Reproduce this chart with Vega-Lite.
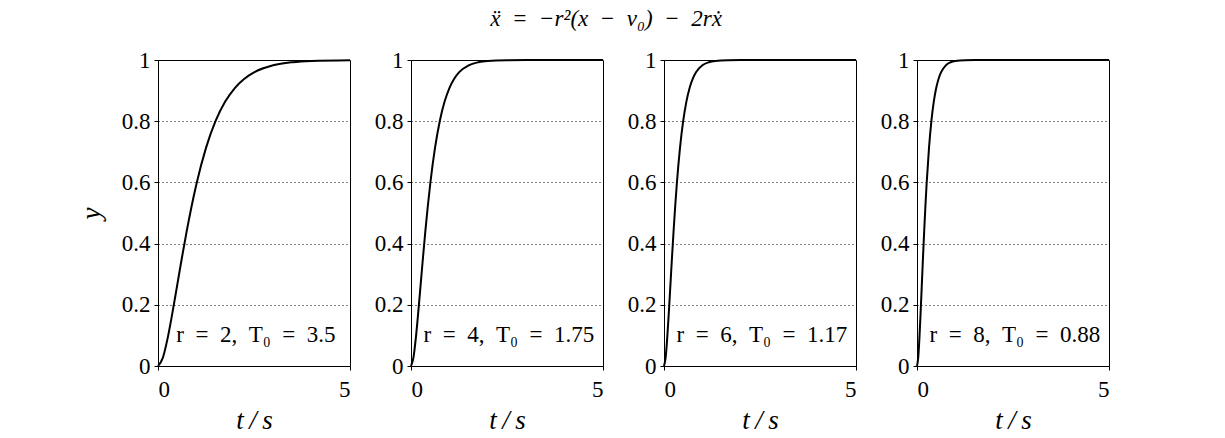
{
  "$schema": "https://vega.github.io/schema/vega-lite/v6.json",
  "autosize": {"type": "pad"},
  "padding": {"left": 76, "top": 7, "right": 5, "bottom": 5},
  "background": "white",
  "bounds": "flush",
  "title": {"text": "ẍ\u2002=\u2002−r²(x\u2002−\u2002v₀)\u2002−\u20022rẋ", "font": "Liberation Serif", "fontSize": 23, "fontWeight": "normal", "fontStyle": "italic", "color": "black", "anchor": "middle", "dx": 11, "offset": 18},
  "datasets": {
    "curves": [
      {"r": 2, "t": 0, "y": 0}, {"r": 2, "t": 0.125, "y": 0.0265}, {"r": 2, "t": 0.25, "y": 0.0902}, {"r": 2, "t": 0.375, "y": 0.1734}, {"r": 2, "t": 0.5, "y": 0.2642}, {"r": 2, "t": 0.625, "y": 0.3554}, {"r": 2, "t": 0.75, "y": 0.4422}, {"r": 2, "t": 0.875, "y": 0.5221}, {"r": 2, "t": 1, "y": 0.594}, {"r": 2, "t": 1.25, "y": 0.7127}, {"r": 2, "t": 1.5, "y": 0.8009}, {"r": 2, "t": 1.75, "y": 0.8641}, {"r": 2, "t": 2, "y": 0.9084}, {"r": 2, "t": 2.25, "y": 0.9389}, {"r": 2, "t": 2.5, "y": 0.9596}, {"r": 2, "t": 3, "y": 0.9826}, {"r": 2, "t": 3.5, "y": 0.9927}, {"r": 2, "t": 4, "y": 0.997}, {"r": 2, "t": 5, "y": 0.9995},
      {"r": 4, "t": 0, "y": 0}, {"r": 4, "t": 0.0625, "y": 0.0265}, {"r": 4, "t": 0.125, "y": 0.0902}, {"r": 4, "t": 0.1875, "y": 0.1734}, {"r": 4, "t": 0.25, "y": 0.2642}, {"r": 4, "t": 0.3125, "y": 0.3554}, {"r": 4, "t": 0.375, "y": 0.4422}, {"r": 4, "t": 0.4375, "y": 0.5221}, {"r": 4, "t": 0.5, "y": 0.594}, {"r": 4, "t": 0.625, "y": 0.7127}, {"r": 4, "t": 0.75, "y": 0.8009}, {"r": 4, "t": 0.875, "y": 0.8641}, {"r": 4, "t": 1, "y": 0.9084}, {"r": 4, "t": 1.125, "y": 0.9389}, {"r": 4, "t": 1.25, "y": 0.9596}, {"r": 4, "t": 1.5, "y": 0.9826}, {"r": 4, "t": 1.75, "y": 0.9927}, {"r": 4, "t": 2, "y": 0.997}, {"r": 4, "t": 2.5, "y": 0.9995}, {"r": 4, "t": 3, "y": 0.9999}, {"r": 4, "t": 5, "y": 1},
      {"r": 6, "t": 0, "y": 0}, {"r": 6, "t": 0.0417, "y": 0.0265}, {"r": 6, "t": 0.0833, "y": 0.0902}, {"r": 6, "t": 0.125, "y": 0.1734}, {"r": 6, "t": 0.1667, "y": 0.2642}, {"r": 6, "t": 0.2083, "y": 0.3554}, {"r": 6, "t": 0.25, "y": 0.4422}, {"r": 6, "t": 0.2917, "y": 0.5221}, {"r": 6, "t": 0.3333, "y": 0.594}, {"r": 6, "t": 0.4167, "y": 0.7127}, {"r": 6, "t": 0.5, "y": 0.8009}, {"r": 6, "t": 0.5833, "y": 0.8641}, {"r": 6, "t": 0.6667, "y": 0.9084}, {"r": 6, "t": 0.75, "y": 0.9389}, {"r": 6, "t": 0.8333, "y": 0.9596}, {"r": 6, "t": 1, "y": 0.9826}, {"r": 6, "t": 1.1667, "y": 0.9927}, {"r": 6, "t": 1.3333, "y": 0.997}, {"r": 6, "t": 1.6667, "y": 0.9995}, {"r": 6, "t": 2, "y": 0.9999}, {"r": 6, "t": 5, "y": 1},
      {"r": 8, "t": 0, "y": 0}, {"r": 8, "t": 0.0313, "y": 0.0265}, {"r": 8, "t": 0.0625, "y": 0.0902}, {"r": 8, "t": 0.0938, "y": 0.1734}, {"r": 8, "t": 0.125, "y": 0.2642}, {"r": 8, "t": 0.1563, "y": 0.3554}, {"r": 8, "t": 0.1875, "y": 0.4422}, {"r": 8, "t": 0.2188, "y": 0.5221}, {"r": 8, "t": 0.25, "y": 0.594}, {"r": 8, "t": 0.3125, "y": 0.7127}, {"r": 8, "t": 0.375, "y": 0.8009}, {"r": 8, "t": 0.4375, "y": 0.8641}, {"r": 8, "t": 0.5, "y": 0.9084}, {"r": 8, "t": 0.5625, "y": 0.9389}, {"r": 8, "t": 0.625, "y": 0.9596}, {"r": 8, "t": 0.75, "y": 0.9826}, {"r": 8, "t": 0.875, "y": 0.9927}, {"r": 8, "t": 1, "y": 0.997}, {"r": 8, "t": 1.25, "y": 0.9995}, {"r": 8, "t": 1.5, "y": 0.9999}, {"r": 8, "t": 5, "y": 1}
    ],
    "labels": [
      {"r": 2, "label": "r\u2002=\u20022,\u2002T₀\u2002=\u20023.5"},
      {"r": 4, "label": "r\u2002=\u20024,\u2002T₀\u2002=\u20021.75"},
      {"r": 6, "label": "r\u2002=\u20026,\u2002T₀\u2002=\u20021.17"},
      {"r": 8, "label": "r\u2002=\u20028,\u2002T₀\u2002=\u20020.88"}
    ]
  },
  "spacing": 61,
  "hconcat": [
    {
      "width": 192, "height": 306,
      "layer": [
        {"data": {"name": "curves"}, "transform": [{"filter": "datum.r == 2"}],
         "mark": {"type": "line", "color": "black", "strokeWidth": 2, "interpolate": "monotone"},
         "encoding": {
           "x": {"field": "t", "type": "quantitative", "scale": {"domain": [0, 5], "nice": false}, "axis": {"values": [0, 5], "title": "t\u2009/\u2009s"}},
           "y": {"field": "y", "type": "quantitative", "scale": {"domain": [0, 1], "nice": false}, "axis": {"values": [0, 0.2, 0.4, 0.6, 0.8, 1], "title": "y"}}
         }},
        {"data": {"name": "labels"}, "transform": [{"filter": "datum.r == 2"}],
         "mark": {"type": "text", "align": "center", "baseline": "middle", "font": "Liberation Serif", "fontSize": 23, "color": "black"},
         "encoding": {"x": {"datum": 2.55, "type": "quantitative"}, "y": {"datum": 0.1, "type": "quantitative"}, "text": {"field": "label"}}}
      ]
    },
    {
      "width": 192, "height": 306,
      "layer": [
        {"data": {"name": "curves"}, "transform": [{"filter": "datum.r == 4"}],
         "mark": {"type": "line", "color": "black", "strokeWidth": 2, "interpolate": "monotone"},
         "encoding": {
           "x": {"field": "t", "type": "quantitative", "scale": {"domain": [0, 5], "nice": false}, "axis": {"values": [0, 5], "title": "t\u2009/\u2009s"}},
           "y": {"field": "y", "type": "quantitative", "scale": {"domain": [0, 1], "nice": false}, "axis": {"values": [0, 0.2, 0.4, 0.6, 0.8, 1], "title": null}}
         }},
        {"data": {"name": "labels"}, "transform": [{"filter": "datum.r == 4"}],
         "mark": {"type": "text", "align": "center", "baseline": "middle", "font": "Liberation Serif", "fontSize": 23, "color": "black"},
         "encoding": {"x": {"datum": 2.55, "type": "quantitative"}, "y": {"datum": 0.1, "type": "quantitative"}, "text": {"field": "label"}}}
      ]
    },
    {
      "width": 192, "height": 306,
      "layer": [
        {"data": {"name": "curves"}, "transform": [{"filter": "datum.r == 6"}],
         "mark": {"type": "line", "color": "black", "strokeWidth": 2, "interpolate": "monotone"},
         "encoding": {
           "x": {"field": "t", "type": "quantitative", "scale": {"domain": [0, 5], "nice": false}, "axis": {"values": [0, 5], "title": "t\u2009/\u2009s"}},
           "y": {"field": "y", "type": "quantitative", "scale": {"domain": [0, 1], "nice": false}, "axis": {"values": [0, 0.2, 0.4, 0.6, 0.8, 1], "title": null}}
         }},
        {"data": {"name": "labels"}, "transform": [{"filter": "datum.r == 6"}],
         "mark": {"type": "text", "align": "center", "baseline": "middle", "font": "Liberation Serif", "fontSize": 23, "color": "black"},
         "encoding": {"x": {"datum": 2.55, "type": "quantitative"}, "y": {"datum": 0.1, "type": "quantitative"}, "text": {"field": "label"}}}
      ]
    },
    {
      "width": 192, "height": 306,
      "layer": [
        {"data": {"name": "curves"}, "transform": [{"filter": "datum.r == 8"}],
         "mark": {"type": "line", "color": "black", "strokeWidth": 2, "interpolate": "monotone"},
         "encoding": {
           "x": {"field": "t", "type": "quantitative", "scale": {"domain": [0, 5], "nice": false}, "axis": {"values": [0, 5], "title": "t\u2009/\u2009s"}},
           "y": {"field": "y", "type": "quantitative", "scale": {"domain": [0, 1], "nice": false}, "axis": {"values": [0, 0.2, 0.4, 0.6, 0.8, 1], "title": null}}
         }},
        {"data": {"name": "labels"}, "transform": [{"filter": "datum.r == 8"}],
         "mark": {"type": "text", "align": "center", "baseline": "middle", "font": "Liberation Serif", "fontSize": 23, "color": "black"},
         "encoding": {"x": {"datum": 2.55, "type": "quantitative"}, "y": {"datum": 0.1, "type": "quantitative"}, "text": {"field": "label"}}}
      ]
    }
  ],
  "config": {
    "view": {"stroke": "black", "strokeWidth": 1},
    "axis": {
      "domain": false,
      "labelFont": "Liberation Serif", "labelFontSize": 23, "labelColor": "black",
      "titleFont": "Liberation Serif", "titleFontSize": 27, "titleFontWeight": "normal", "titleFontStyle": "italic", "titleColor": "black",
      "tickColor": "black", "tickSize": 4,
      "format": "~g",
      "grid": true, "gridColor": "black", "gridDash": [1, 3], "gridOpacity": 1, "gridWidth": 1
    },
    "axisX": {"grid": false, "labelPadding": 8, "titlePadding": 6},
    "axisY": {"labelPadding": 4, "titlePadding": 16}
  }
}
